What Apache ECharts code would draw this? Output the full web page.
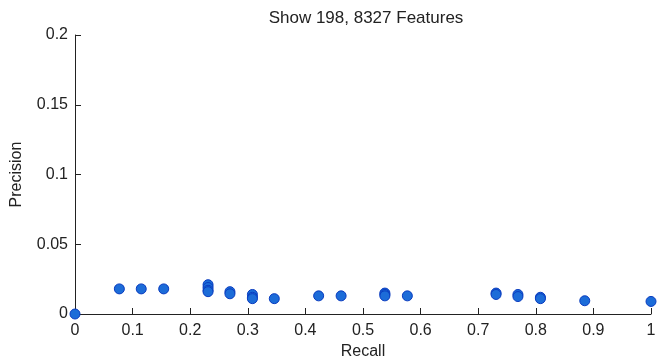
<!DOCTYPE html>
<html><head><meta charset="utf-8">
<script src="https://cdn.jsdelivr.net/npm/echarts@6/dist/echarts.min.js"></script>
<style>html,body{margin:0;padding:0;background:#fff}#c{width:657px;height:362px}</style>
</head><body><div id="c"></div>
<script>
const titleText = "Show 198, 8327 Features";
const xName = "Recall";
const yName = "Precision";
const recall = [0, 0.077, 0.115, 0.154, 0.231, 0.231, 0.231, 0.231, 0.269, 0.269, 0.308, 0.308, 0.308, 0.346, 0.423, 0.462, 0.538, 0.538, 0.538, 0.577, 0.731, 0.731, 0.769, 0.769, 0.808, 0.808, 0.885, 1];
const precision = [0, 0.018, 0.018, 0.018, 0.021, 0.019, 0.017, 0.016, 0.016, 0.0145, 0.014, 0.012, 0.011, 0.011, 0.013, 0.013, 0.015, 0.014, 0.013, 0.013, 0.015, 0.014, 0.014, 0.0125, 0.012, 0.011, 0.0095, 0.009];
const xTicks = [0, 0.1, 0.2, 0.3, 0.4, 0.5, 0.6, 0.7, 0.8, 0.9, 1];
const yTicks = [0, 0.05, 0.1, 0.15, 0.2];

const pts = recall.map((r, i) => [r, precision[i]]);
const font = "Liberation Sans, Arial, sans-serif";
const fs = 16;
const chart = echarts.init(document.getElementById('c'), null, {renderer: 'canvas'});
chart.setOption({
  animation: false,
  backgroundColor: '#fff',
  title: {text: titleText, left: 361, top: 5, textAlign: 'center',
    textStyle: {fontFamily: font, fontSize: 17, fontWeight: 'normal', color: '#222'}},
  grid: {left: 75, right: 6, top: 35, bottom: 48, containLabel: false, outerBoundsMode: 'none'},
  xAxis: {type: 'value', min: 0, max: 1, interval: 0.1,
    name: xName, nameLocation: 'middle', nameGap: 30,
    nameTextStyle: {fontFamily: font, fontSize: fs, color: '#222'},
    axisLine: {show: true, lineStyle: {color: '#222', width: 1}},
    axisTick: {show: true, inside: true, length: 6, lineStyle: {color: '#222'}},
    axisLabel: {fontFamily: font, fontSize: fs, color: '#222', margin: 9,
      formatter: v => xTicks.includes(+v.toFixed(2)) ? String(+v.toFixed(2)) : ''},
    splitLine: {show: false}},
  yAxis: {type: 'value', min: 0, max: 0.2, interval: 0.05,
    name: yName, nameLocation: 'middle', nameGap: 50,
    nameTextStyle: {fontFamily: font, fontSize: fs, color: '#222'},
    axisLine: {show: true, lineStyle: {color: '#222', width: 1}},
    axisTick: {show: true, inside: true, length: 6, lineStyle: {color: '#222'}},
    axisLabel: {fontFamily: font, fontSize: fs, color: '#222', margin: 7,
      formatter: v => yTicks.includes(+v.toFixed(2)) ? String(+v.toFixed(2)) : ''},
    splitLine: {show: false}},
  series: [{type: 'scatter', data: pts, symbol: 'circle', symbolSize: 10,
    clip: false,
    itemStyle: {color: '#1c6cd8', borderColor: '#0a3cc0', borderWidth: 1, opacity: 1}}]
});
</script></body></html>
